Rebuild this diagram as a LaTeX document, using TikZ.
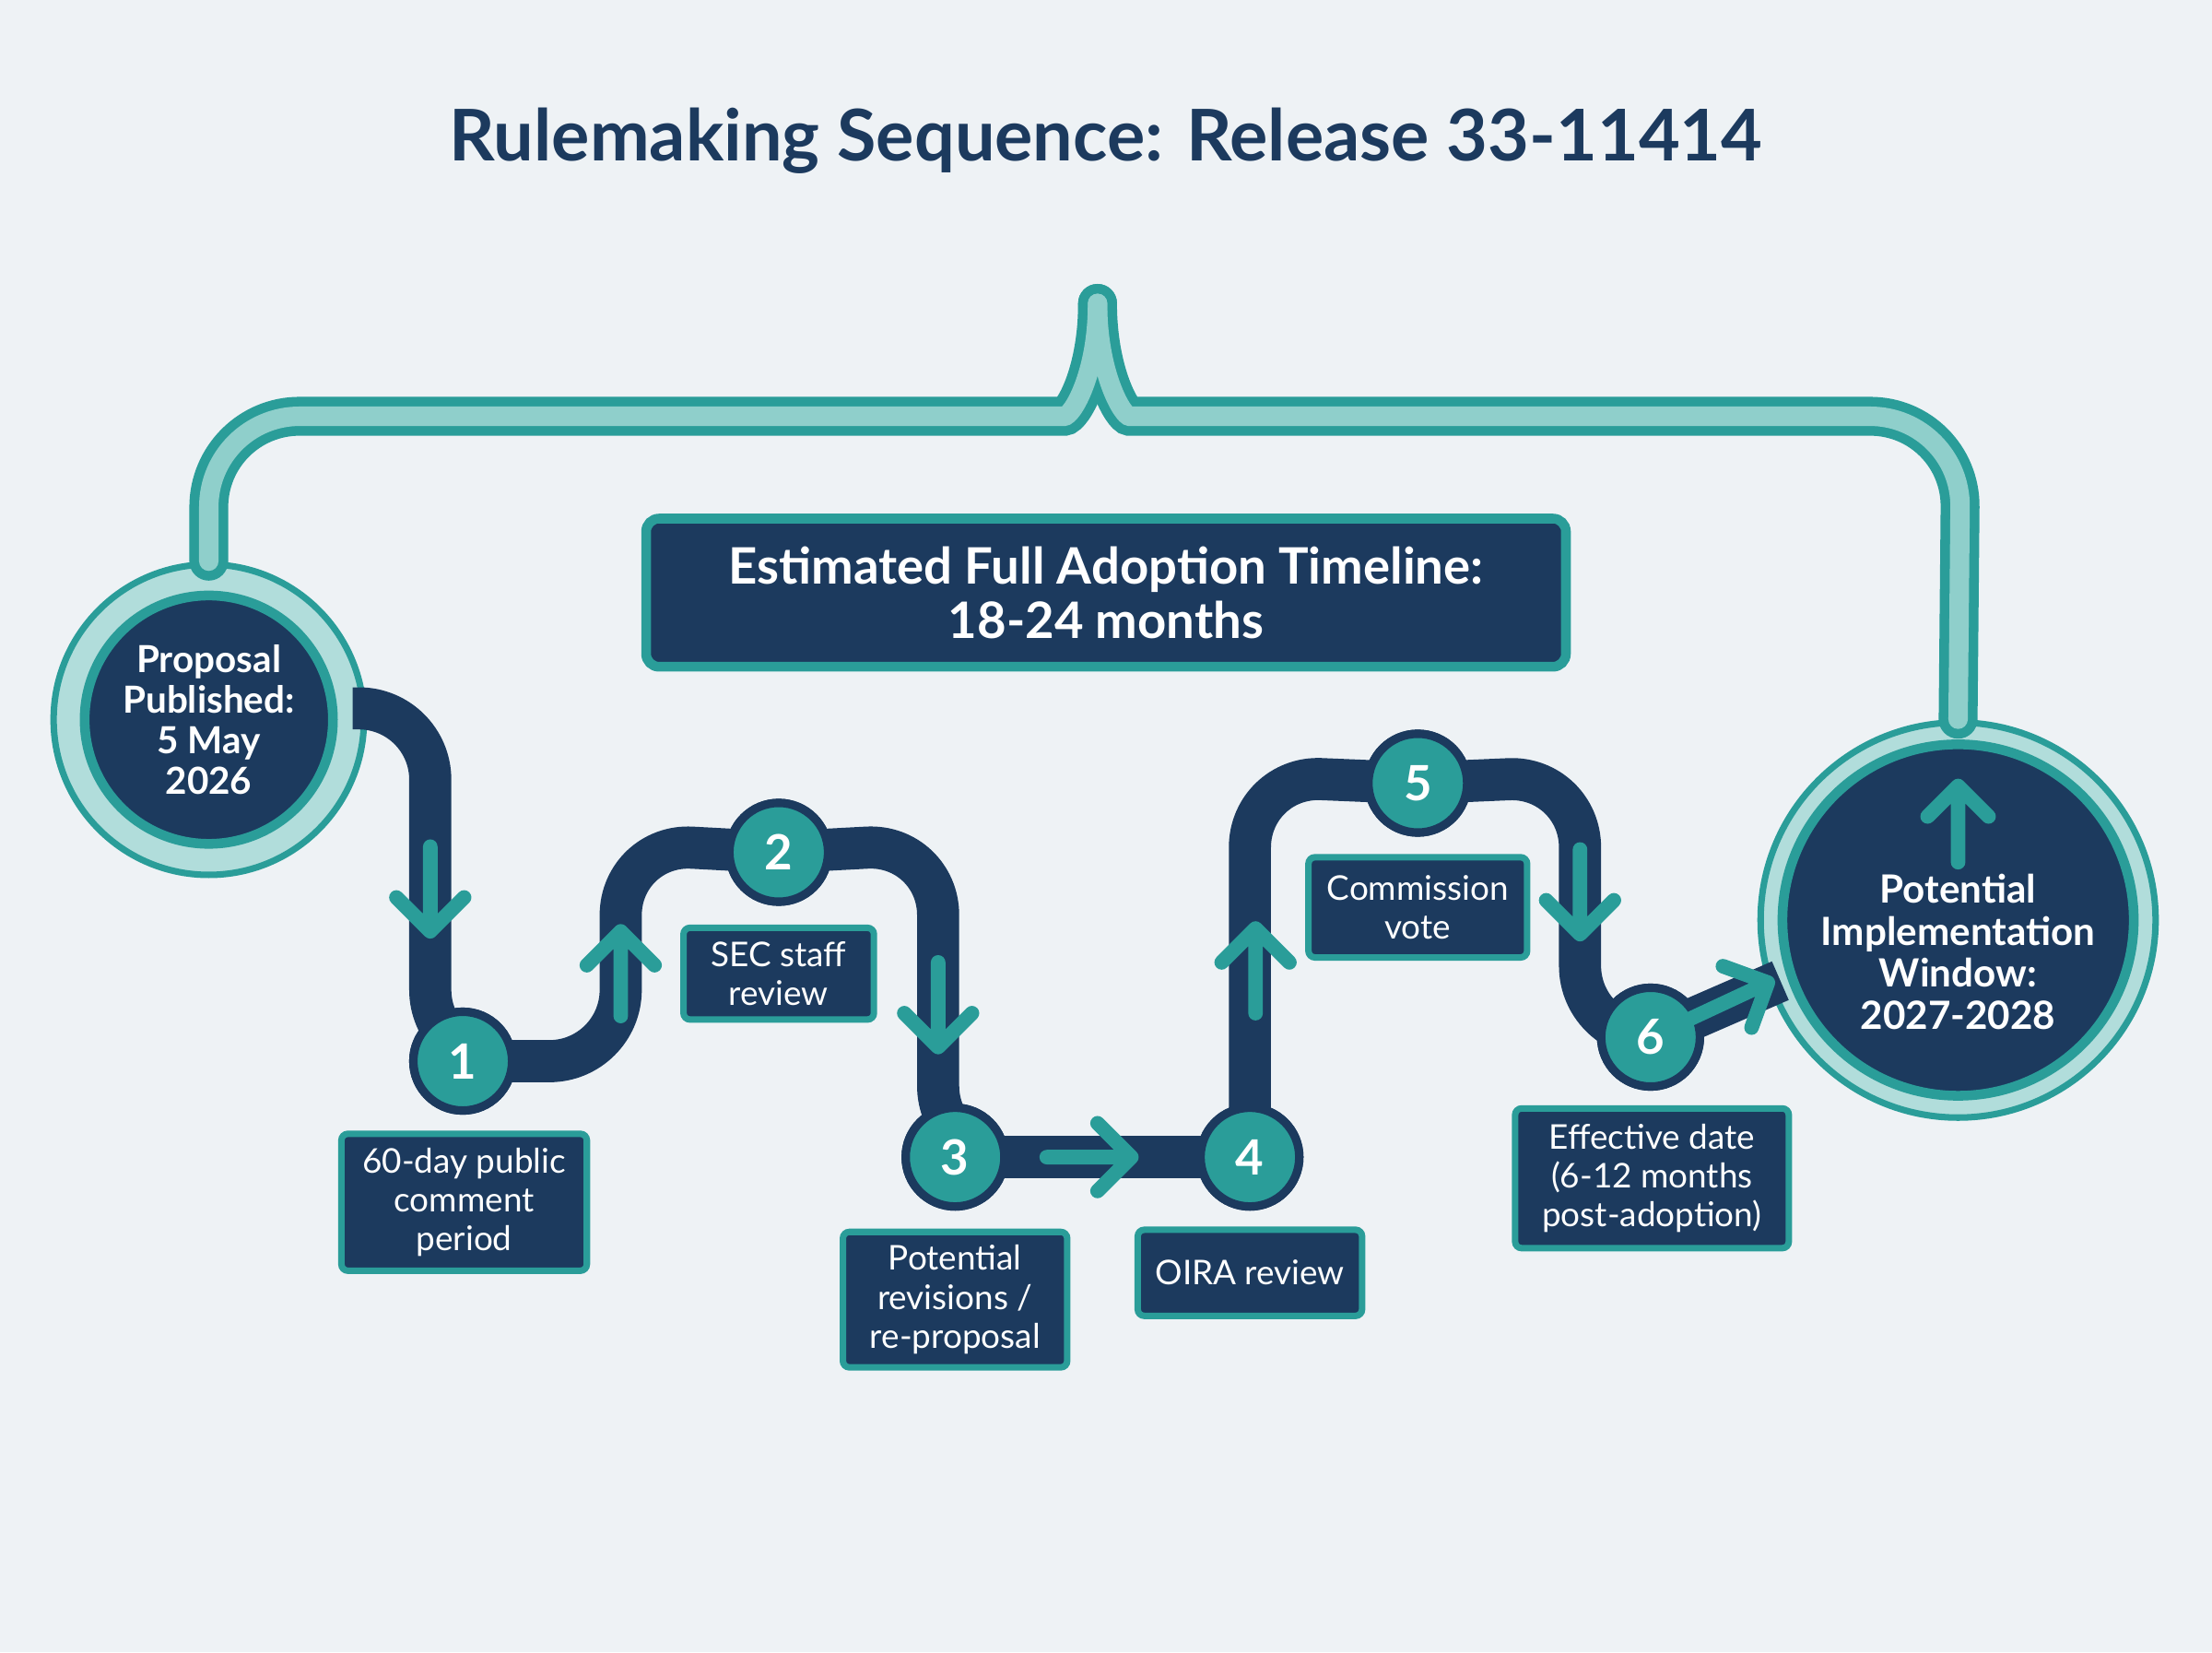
\documentclass[tikz,border=0pt]{standalone}
\usepackage{fontspec}
\setmainfont{Lato}
\begin{document}
\definecolor{bg}{HTML}{EEF2F5}
\definecolor{navy}{HTML}{1C3A5E}
\definecolor{teal}{HTML}{2A9D99}
\definecolor{lteal}{HTML}{8FCFCB}
\begin{tikzpicture}[x=0.01531cm,y=-0.01531cm,
  navyp/.style={draw=navy,line width=13pt,rounded corners=22pt},
  num/.style={circle,fill=teal,draw=navy,line width=2.6pt,minimum size=70*0.01531cm,text=white,font=\bfseries\fontsize{15}{15}\selectfont,inner sep=0pt},
  lbl/.style={rectangle,rounded corners=2pt,fill=navy,draw=teal,line width=2pt,text=white,align=center,font=\fontsize{10.5}{12}\selectfont,inner sep=4pt},
  tarr/.pic={\draw[teal,line width=4.5pt,line cap=round,line join=round] (0,-30)--(0,30) (-24,6)--(0,30)--(24,6);}
]
\fill[bg] (0,0) rectangle (1568,1171);
\useasboundingbox (0,0) rectangle (1568,1171);
\node[text=navy,font=\bfseries\fontsize{22}{26}\selectfont] (title) at (784,100) {Rulemaking Sequence: Release 33-11414};
% circles (nodes)
\node[circle,minimum size=220*0.01531cm,fill=lteal!70,draw=teal,line width=2pt] (start) at (148,510) {};
\node[circle,minimum size=280*0.01531cm,fill=lteal!70,draw=teal,line width=2pt] (end) at (1388,652) {};
% bracket
\foreach \w/\c in {12pt/teal,6pt/lteal}{
\draw[\c,line width=\w,line cap=round,rounded corners=28pt] (start.north) -- (148,295) -- (690,295) .. controls (760,295) and (778,265) .. (778,215);
\draw[\c,line width=\w,line cap=round,rounded corners=28pt] (778,215) .. controls (778,265) and (796,295) .. (865,295) -- (1390,295) -- (end.north);
}
\node[circle,minimum size=176*0.01531cm,fill=navy,draw=teal,line width=3pt,text=white,align=center,font=\bfseries\fontsize{11.5}{12.5}\selectfont,inner sep=0pt] (startin) at (148,510) {Proposal\\Published:\\5 May\\2026};
% numbers
\node[num] (n1) at (328,752) {1};
\node[num] (n2) at (552,604) {2};
\node[num] (n3) at (677,820) {3};
\node[num] (n4) at (886,820) {4};
\node[num] (n5) at (1005,555) {5};
\node[num] (n6) at (1170,735) {6};
% navy snake
\begin{scope}[on background layer/.style={}]
\end{scope}
\draw[navyp] (250,502) -- (305,502) -- (305,752) -- (n1.center);
\draw[navyp] (n1.center) -- (440,752) -- (440,598) -- (n2.center);
\draw[navyp] (n2.center) -- (665,598) -- (665,820) -- (n3.center);
\draw[navyp] (n3.center) -- (n4.center);
\draw[navyp] (n4.center) -- (886,550) -- (n5.center);
\draw[navyp] (n5.center) -- (1120,550) -- (1120,735) -- (n6.center);
\draw[navyp] (n6.center) -- (1262,695);
\node[circle,minimum size=236*0.01531cm,fill=navy,draw=teal,line width=3pt,text=white,align=center,font=\bfseries\fontsize{12}{13}\selectfont,inner sep=0pt] (endin) at (1388,652) {\\[1.3em]Potential\\Implementation\\Window:\\2027-2028};
% redraw number circles on top
\foreach \n/\p/\t in {a/{328,752}/1,b/{552,604}/2,c/{677,820}/3,d/{886,820}/4,e/{1005,555}/5,f/{1170,735}/6}
  \node[num] (m\n) at (\p) {\t};
% central box
\node[lbl,minimum width=652*0.01531cm,minimum height=105*0.01531cm,line width=3pt,rounded corners=4pt,font=\bfseries\fontsize{15.5}{17}\selectfont] (est) at (784,420) {Estimated Full Adoption Timeline:\\18-24 months};
% labels
\node[lbl,minimum width=174*0.01531cm,minimum height=97*0.01531cm] (l1) at (329,852) {60-day public\\comment\\period};
\node[lbl,minimum width=135*0.01531cm,minimum height=65*0.01531cm] (l2) at (552,690) {SEC staff\\review};
\node[lbl,minimum width=159*0.01531cm,minimum height=96*0.01531cm] (l3) at (677,921) {Potential\\revisions /\\re-proposal};
\node[lbl,minimum width=159*0.01531cm,minimum height=61*0.01531cm] (l4) at (886,902) {OIRA review};
\node[lbl,minimum width=155*0.01531cm,minimum height=71*0.01531cm] (l5) at (1005,643) {Commission\\vote};
\node[lbl,minimum width=194*0.01531cm,minimum height=99*0.01531cm] (l6) at (1171,835) {Effective date\\(6-12 months\\post-adoption)};
% arrows
\pic at (305,630) {tarr};
\pic[rotate=180] at (440,690) {tarr};
\pic at (665,712) {tarr};
\pic[rotate=90] at (772,820) {tarr};
\pic[rotate=180] at (890,688) {tarr};
\pic at (1120,632) {tarr};
\pic[rotate=115] at (1226,709) {tarr};
\pic[rotate=180,scale=0.9] at (1388,584) {tarr};
\end{tikzpicture}
\end{document}
